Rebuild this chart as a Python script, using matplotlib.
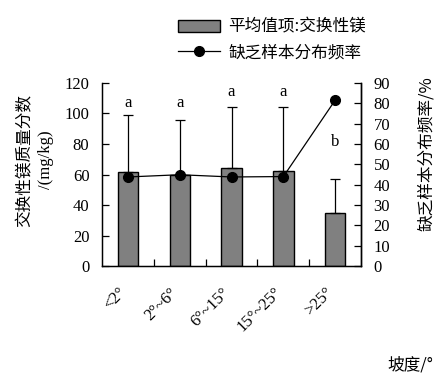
import numpy as np
import matplotlib.pyplot as plt
from matplotlib.lines import Line2D
from matplotlib.patches import Patch

plt.rcParams['font.family'] = ['Liberation Serif', 'Noto Sans CJK SC']

# slope classes
categories = ["<2°", "2°~6°", "6°~15°", "15°~25°", ">25°"]
# mean exchangeable Mg (mg/kg) and upper error
mg_mean = [61.5, 60.0, 64.5, 62.5, 34.5]
mg_err = [37.5, 36.0, 40.0, 41.5, 22.5]
# frequency of deficient samples (%)
deficit_freq = [43.8, 44.9, 43.8, 44.0, 81.6]
# significance letters
letters = ["a", "a", "a", "a", "b"]
letter_y = [107, 107, 114, 114, 81]

cjk = ['Noto Sans CJK SC', 'Liberation Serif']

fig = plt.figure(figsize=(4.47, 3.84), dpi=100)
ax = fig.add_axes([0.228, 0.307, 0.580, 0.477])
x = np.arange(len(categories))

ax.bar(x, mg_mean, width=0.39, color="#808080", edgecolor="black", linewidth=1.0,
       yerr=[np.zeros(len(mg_err)), mg_err], capsize=3.5,
       error_kw=dict(elinewidth=0.9, capthick=0.9, ecolor="black"))
for xi, s, yy in zip(x, letters, letter_y):
    ax.text(xi, yy, s, ha="center", va="center", fontsize=12)

ax.set_xlim(-0.5, 4.5)
ax.set_ylim(0, 120)
ax.set_yticks(np.arange(0, 121, 20))
ax.set_xticks([0.5, 1.5, 2.5, 3.5])
ax.set_xticklabels([])
ax.tick_params(axis="x", direction="in", length=5, width=0.9)
ax.tick_params(axis="y", direction="in", length=5, width=0.9, labelsize=12, pad=9)
ax.spines["top"].set_visible(False)
for sp in ["left", "bottom", "right"]:
    ax.spines[sp].set_linewidth(1.0)

for xi, lab in zip(x, categories):
    ax.text(xi - 0.2, -0.1, lab, transform=ax.get_xaxis_transform(),
            rotation=45, ha="right", va="top", rotation_mode="anchor",
            fontsize=12)

ax2 = ax.twinx()
ax2.plot(x, deficit_freq, color="black", linewidth=0.9, marker="o", markersize=7)
ax2.set_ylim(0, 90)
ax2.set_yticks(np.arange(0, 91, 10))
ax2.tick_params(axis="y", direction="in", length=5, width=0.9, labelsize=12, pad=9)
ax2.spines["top"].set_visible(False)
ax2.spines["right"].set_linewidth(1.0)

fig.text(0.056, 0.583, "交换性镁质量分数", rotation=90, ha="center", va="center",
         fontsize=12, family=cjk)
fig.text(0.103, 0.583, "/(mg/kg)", rotation=90, ha="center", va="center",
         fontsize=12)
fig.text(0.955, 0.6, "缺乏样本分布频率/%", rotation=90, ha="center", va="center",
         fontsize=12, family=cjk)
fig.text(0.918, 0.05, "坡度/°", ha="center", va="center", fontsize=12, family=cjk)

handles = [Patch(facecolor="#808080", edgecolor="black", linewidth=1.0),
           Line2D([0], [0], color="black", linewidth=0.9, marker="o", markersize=7)]
fig.legend(handles, ["平均值项:交换性镁", "缺乏样本分布频率"],
           loc="upper left", bbox_to_anchor=(0.365, 0.99), frameon=False,
           prop=dict(family=cjk, size=12), handlelength=2.5, labelspacing=0.5,
           handletextpad=0.5)

fig.savefig("out.png", dpi=100)
